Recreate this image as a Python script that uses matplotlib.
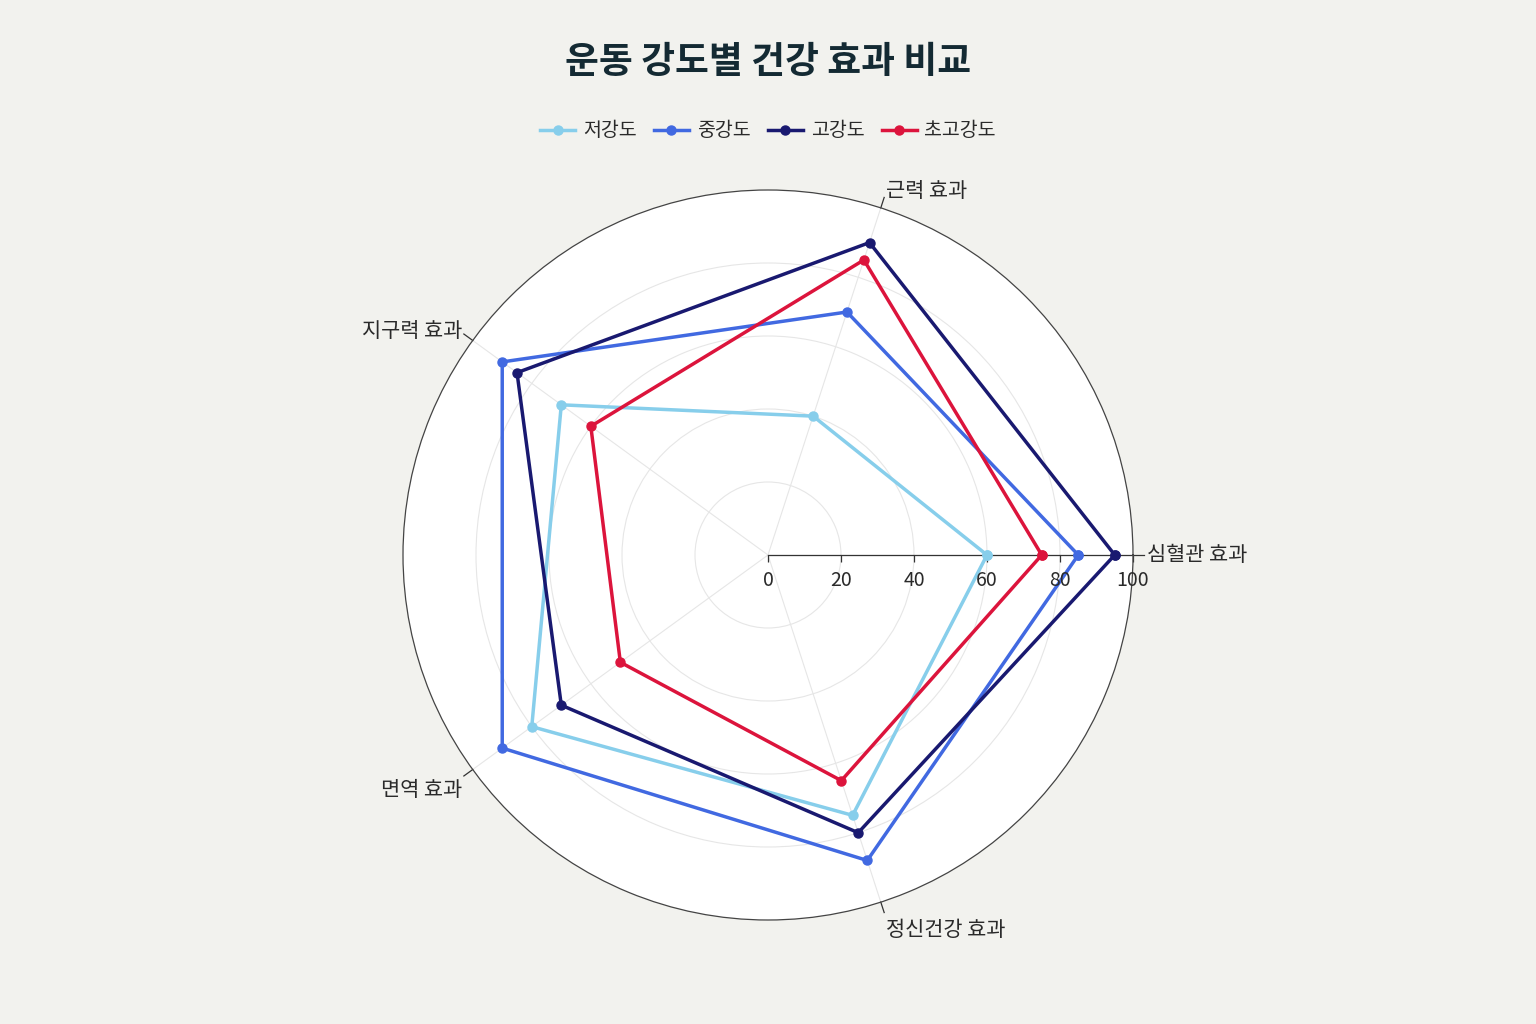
import numpy as np
import matplotlib
matplotlib.use('Agg')
from matplotlib import pyplot as plt

plt.rcParams['font.family'] = ['Noto Sans CJK KR', 'DejaVu Sans']

categories = ['심혈관 효과', '근력 효과', '지구력 효과', '면역 효과', '정신건강 효과']
series_names = ['저강도', '중강도', '고강도', '초고강도']
low = [60, 40, 70, 80, 75]
medium = [85, 70, 90, 90, 88]
high = [95, 90, 85, 70, 80]
very_high = [75, 85, 60, 50, 65]
radial_ticks = [0, 20, 40, 60, 80, 100]

colors = ['#87CEEB', '#4169E1', '#191970', '#DC143C']
bg = '#F2F2EE'
text_color = '#2a2a2a'

fig = plt.figure(figsize=(15.36, 10.24), dpi=100, facecolor=bg)
rx = 365 / 1536
ry = 365 / 1024
cy = 1 - 555 / 1024
ax = fig.add_axes([0.5 - rx, cy - ry, 2 * rx, 2 * ry], projection='polar')
ax.set_facecolor('white')

angles = np.deg2rad(np.arange(len(categories)) * 72.0)

# Series
for name, vals, c in zip(series_names, [low, medium, high, very_high], colors):
    th = np.append(angles, angles[0])
    r = np.append(vals, vals[0])
    ax.plot(th, r, color=c, lw=2.5, marker='o', ms=6.5, label=name, zorder=3)

ax.set_ylim(0, 100)
ax.set_rgrids([20, 40, 60, 80], labels=[''] * 4)
ax.set_thetagrids(np.rad2deg(angles), labels=[''] * len(categories))
ax.grid(color='#e6e6e6', lw=0.8)
ax.spines['polar'].set_color('#444444')
ax.spines['polar'].set_linewidth(0.9)
ax.tick_params(axis='both', length=0)

# Radial axis line with ticks and labels
ax.plot([0, 0], [0, 100], color='#333333', lw=0.9, zorder=2)
ax.plot(np.zeros(len(radial_ticks)), radial_ticks, ls='', marker=3, ms=5,
        mew=0.9, color='#333333', zorder=2, clip_on=False)
for v in radial_ticks:
    ax.annotate(str(v), xy=(0, v), xytext=(0, -11), textcoords='offset points',
                ha='center', va='top', fontsize=14, color=text_color,
                annotation_clip=False)

# Angular ticks and labels
align = [('left', 'center', (2, 0)), ('left', 'bottom', (1, -3)),
         ('right', 'bottom', (-1, -6)), ('right', 'top', (-1, -2)),
         ('left', 'top', (1, -5))]
for a, lab, (ha, va, off) in zip(angles, categories, align):
    ax.plot([a, a], [100, 103], color='#333333', lw=0.9, clip_on=False)
    ax.annotate(lab, xy=(a, 103), xytext=off, textcoords='offset points',
                ha=ha, va=va, fontsize=15, color=text_color,
                annotation_clip=False)

fig.text(0.5, 1 - 62 / 1024, '운동 강도별 건강 효과 비교', ha='center', va='center',
         fontsize=26.5, fontweight='bold', color='#142a33')

fig.legend(*ax.get_legend_handles_labels(), loc='center', ncol=4,
           bbox_to_anchor=(0.5, 1 - 131 / 1024), frameon=False, fontsize=14,
           handlelength=1.8, columnspacing=0.9, handletextpad=0.4,
           labelcolor=text_color)

fig.savefig('out.png', dpi=100, facecolor=bg)
